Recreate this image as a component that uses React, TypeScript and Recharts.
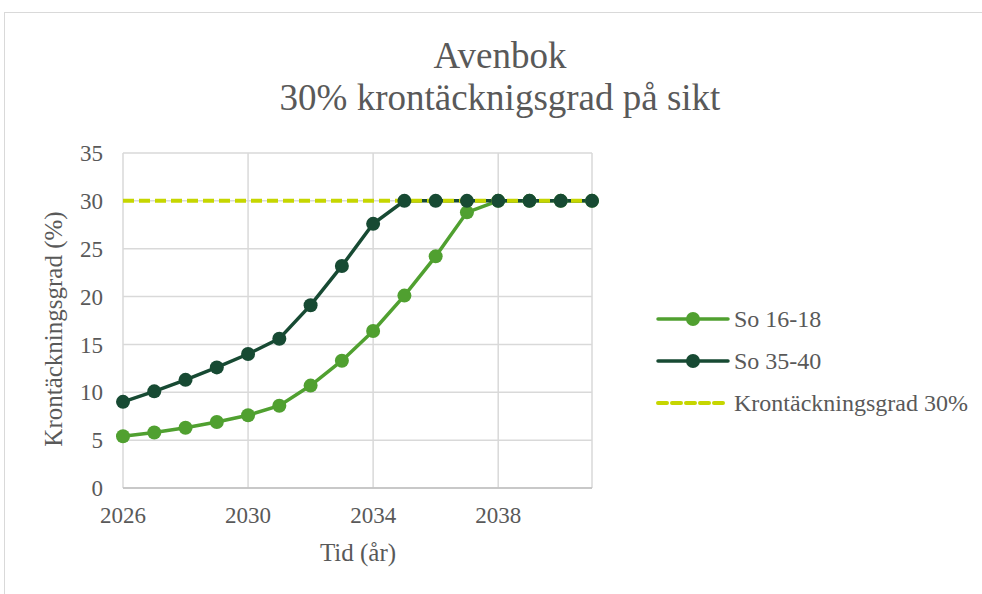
import { LineChart, Line, XAxis, YAxis, CartesianGrid, Legend } from "recharts";

// Values
const years = [2026, 2027, 2028, 2029, 2030, 2031, 2032, 2033, 2034, 2035, 2036, 2037, 2038, 2039, 2040, 2041];
const so1618 = [5.4, 5.8, 6.3, 6.9, 7.6, 8.6, 10.7, 13.3, 16.4, 20.1, 24.2, 28.8, 30, 30, 30, 30];
const so3540 = [9.0, 10.1, 11.3, 12.6, 14.0, 15.6, 19.1, 23.2, 27.6, 30, 30, 30, 30, 30, 30, 30];
const target = [30, 30, 30, 30, 30, 30, 30, 30, 30, 30, 30, 30, 30, 30, 30, 30];
const xTicks = [2026, 2030, 2034, 2038];
const yTicks = [0, 5, 10, 15, 20, 25, 30, 35];

const data = years.map((year, i) => ({
  year,
  so1618: so1618[i],
  so3540: so3540[i],
  target: target[i],
}));

const FONT = "Liberation Serif, serif";
const TEXT = "#595959";
const LIGHT = "#50a030";
const DARK = "#174a33";
const LIME = "#c6d600";

const legendItems = [
  { label: "So 16-18", color: LIGHT, dashed: false },
  { label: "So 35-40", color: DARK, dashed: false },
  { label: "Krontäckningsgrad 30%", color: LIME, dashed: true },
];

const LegendBox = () => (
  <div style={{ fontFamily: FONT, fontSize: 24, color: TEXT }}>
    {legendItems.map((it) => (
      <div key={it.label} style={{ display: "flex", alignItems: "center", height: 42 }}>
        <svg width={74} height={20} style={{ marginRight: 4 }}>
          <line
            x1={2}
            y1={10}
            x2={72}
            y2={10}
            stroke={it.color}
            strokeWidth={it.dashed ? 4 : 3.5}
            strokeDasharray={it.dashed ? "9 5" : undefined}
            strokeLinecap="round"
          />
          {!it.dashed && <circle cx={37} cy={10} r={7} fill={it.color} />}
        </svg>
        <span>{it.label}</span>
      </div>
    ))}
  </div>
);

const tickStyle = { fontSize: 23, fill: TEXT, style: { fontFamily: FONT } };

export default function App() {
  return (
    <div
      style={{
        position: "absolute",
        left: 0,
        top: 0,
        width: 982,
        height: 594,
        background: "#fff",
        overflow: "hidden",
        fontFamily: FONT,
      }}
    >
      <div
        style={{
          position: "absolute",
          left: 4,
          top: 12,
          width: 1000,
          height: 600,
          border: "1px solid #d9d9d9",
        }}
      />
      <svg width={982} height={130} style={{ position: "absolute", left: 0, top: 0 }}>
        <text x={500} y={68} textAnchor="middle" fontSize={37} fill={TEXT} style={{ fontFamily: FONT }}>
          Avenbok
        </text>
        <text x={500} y={110} textAnchor="middle" fontSize={37} fill={TEXT} style={{ fontFamily: FONT }}>
          30% krontäcknigsgrad på sikt
        </text>
      </svg>
      <div style={{ position: "absolute", left: 0, top: 0 }}>
        <LineChart
          width={982}
          height={594}
          data={data}
          margin={{ top: 153, right: 390, bottom: 26, left: 43 }}
          style={{ fontFamily: FONT }}
        >
          <CartesianGrid stroke="#d9d9d9" strokeWidth={1.5} />
          <XAxis
            dataKey="year"
            type="number"
            domain={[2026, 2041]}
            ticks={xTicks}
            height={80}
            tickLine={false}
            axisLine={{ stroke: "#bfbfbf", strokeWidth: 1.5 }}
            tickMargin={13}
            tick={tickStyle}
            label={{
              content: () => (
                <text x={358} y={561} textAnchor="middle" fontSize={25} fill={TEXT} style={{ fontFamily: FONT }}>
                  Tid (år)
                </text>
              ),
            }}
          />
          <YAxis
            type="number"
            domain={[0, 35]}
            ticks={yTicks}
            width={80}
            tickLine={false}
            axisLine={false}
            tickMargin={14}
            tick={tickStyle}
            label={{
              content: () => (
                <text
                  x={62}
                  y={329}
                  transform="rotate(-90 62 329)"
                  textAnchor="middle"
                  fontSize={25}
                  fill={TEXT}
                  style={{ fontFamily: FONT }}
                >
                  Krontäckningsgrad (%)
                </text>
              ),
            }}
          />
          <Legend
            layout="vertical"
            align="center"
            verticalAlign="middle"
            content={() => <LegendBox />}
            wrapperStyle={{ position: "absolute", left: 656, top: 298, width: 320 }}
          />
          <Line
            dataKey="so1618"
            stroke={LIGHT}
            strokeWidth={3.5}
            dot={{ r: 7, fill: LIGHT, stroke: "none" }}
            isAnimationActive={false}
          />
          <Line
            dataKey="so3540"
            stroke={DARK}
            strokeWidth={3.5}
            dot={{ r: 7, fill: DARK, stroke: "none" }}
            isAnimationActive={false}
          />
          <Line
            dataKey="target"
            stroke={LIME}
            strokeWidth={4}
            strokeDasharray="11 5"
            dot={false}
            isAnimationActive={false}
          />
        </LineChart>
      </div>
    </div>
  );
}
